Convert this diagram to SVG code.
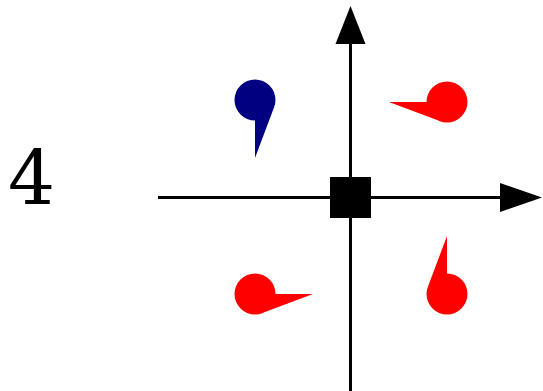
<svg xmlns="http://www.w3.org/2000/svg" width="543" height="391" viewBox="0 0 543 391">
<style>
.axis{stroke:#000;stroke-width:3;fill:none}
.head{fill:#000}
.lbl{font-family:"DejaVu Serif",serif;font-size:74px;fill:#000}
</style>
<defs>
<path id="pin" d="M0,0 L0,58 L19.1,7.3 Z M-20.5,0 A20.5,20.5 0 1 0 20.5,0 A20.5,20.5 0 1 0 -20.5,0 Z"/>
</defs>
<g id="label"><text class="lbl" x="8" y="204">4</text></g>
<g id="connectors">
<line class="axis" x1="158" y1="197.5" x2="502" y2="197.5"/>
<polygon class="head" points="500,183 542,197.5 500,212"/>
<line class="axis" x1="350.5" y1="391" x2="350.5" y2="42"/>
<polygon class="head" points="335.5,44 350.5,6 365.5,44"/>
</g>
<g id="origin"><rect x="330" y="177" width="41" height="41" fill="#000"/></g>
<g id="pin-blue"><use href="#pin" transform="translate(255,100)" fill="#000080"/></g>
<g id="pin-tr"><use href="#pin" transform="translate(447,102) rotate(90)" fill="#ff0000"/></g>
<g id="pin-bl"><use href="#pin" transform="translate(255,294) rotate(-90) scale(-1,1)" fill="#ff0000"/></g>
<g id="pin-br"><use href="#pin" transform="translate(447,294) rotate(180)" fill="#ff0000"/></g>
</svg>
